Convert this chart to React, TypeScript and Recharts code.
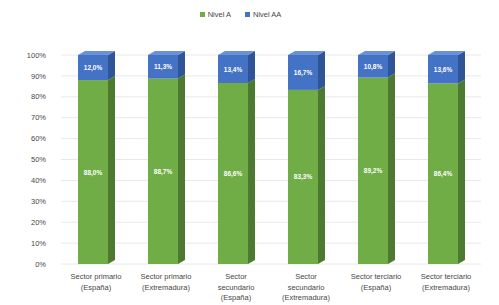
import React from "react";
import {
  Bar,
  BarChart,
  CartesianGrid,
  LabelList,
  Legend,
  XAxis,
  YAxis,
} from "recharts";

const categorias = [
  ["Sector primario", "(España)"],
  ["Sector primario", "(Extremadura)"],
  ["Sector", "secundario", "(España)"],
  ["Sector", "secundario", "(Extremadura)"],
  ["Sector terciario", "(España)"],
  ["Sector terciario", "(Extremadura)"],
];
const nivelA = [88.0, 88.7, 86.6, 83.3, 89.2, 86.4];
const nivelAA = [12.0, 11.3, 13.4, 16.7, 10.8, 13.6];
const yTicks = [0, 10, 20, 30, 40, 50, 60, 70, 80, 90, 100];

const data = categorias.map((c, i) => ({
  cat: String(i),
  a: nivelA[i],
  aa: nivelAA[i],
}));

const COLORS = {
  green: "#70ad47",
  greenSide: "#4d7a30",
  blue: "#4472c4",
  blueSide: "#2f5597",
  blueTop: "#6a90d6",
  text: "#474747",
  grid: "#e8e8e8",
};

// medidas del efecto 3D
const FRONT = 30;
const DEPTH = 7;
const RISE = 4;

function make3D(front: string, side: string, top?: string) {
  return (props: any) => {
    const { x, y, height } = props;
    return (
      <g>
        <rect x={x} y={y} width={FRONT} height={height} fill={front} />
        <polygon
          points={`${x + FRONT},${y} ${x + FRONT + DEPTH},${y - RISE} ${x + FRONT + DEPTH},${y + height - RISE} ${x + FRONT},${y + height}`}
          fill={side}
        />
        {top && (
          <polygon
            points={`${x},${y} ${x + DEPTH},${y - RISE} ${x + FRONT + DEPTH},${y - RISE} ${x + FRONT},${y}`}
            fill={top}
          />
        )}
      </g>
    );
  };
}

const fmt = (v: number) => v.toFixed(1).replace(".", ",") + "%";

const valueLabel = (props: any) => {
  const { x, y, height, value } = props;
  return (
    <text
      x={x + FRONT / 2}
      y={y + height / 2}
      textAnchor="middle"
      dominantBaseline="central"
      fill="#ffffff"
      fontSize={6.5}
      fontWeight="bold"
    >
      {fmt(Number(value))}
    </text>
  );
};

const CatTick = (props: any) => {
  const { x, y, payload } = props;
  const lines = categorias[Number(payload.value)];
  return (
    <text x={x} y={y} textAnchor="middle" fill={COLORS.text} fontSize={7.5}>
      {lines.map((l, i) => (
        <tspan key={i} x={x} dy={i === 0 ? 7 : 10.5}>
          {l}
        </tspan>
      ))}
    </text>
  );
};

const LegendBox = () => (
  <div
    style={{
      display: "flex",
      justifyContent: "center",
      gap: 14,
      fontSize: 7.5,
      color: COLORS.text,
    }}
  >
    {[
      ["Nivel A", COLORS.green],
      ["Nivel AA", COLORS.blue],
    ].map(([n, c]) => (
      <span key={n} style={{ display: "flex", alignItems: "center", gap: 3 }}>
        <span style={{ width: 5, height: 5, background: c, display: "inline-block" }} />
        {n}
      </span>
    ))}
  </div>
);

export default function App() {
  return (
    <div
      style={{
        position: "absolute",
        left: 0,
        top: 0,
        width: 499,
        height: 305,
        background: "#fff",
        fontFamily: "'Liberation Sans', Arial, sans-serif",
      }}
    >
      <BarChart
        width={499}
        height={305}
        data={data}
        margin={{ top: 46, right: 18, left: 0, bottom: 0 }}
        barCategoryGap={0}
      >
        <CartesianGrid vertical={false} stroke={COLORS.grid} />
        <XAxis
          dataKey="cat"
          tick={<CatTick />}
          tickLine={false}
          axisLine={false}
          height={41}
          interval={0}
        />
        <YAxis
          width={61}
          domain={[0, 100]}
          ticks={yTicks}
          tickFormatter={(v: number) => `${v}%`}
          tick={{ fill: COLORS.text, fontSize: 7.5 }}
          tickLine={false}
          axisLine={false}
          tickSize={0}
          tickMargin={15}
          interval={0}
        />
        <Legend
          verticalAlign="top"
          content={<LegendBox />}
          wrapperStyle={{ top: 10 }}
        />
        <Bar
          dataKey="a"
          stackId="s"
          barSize={FRONT + DEPTH}
          isAnimationActive={false}
          shape={make3D(COLORS.green, COLORS.greenSide)}
        >
          <LabelList dataKey="a" content={valueLabel} />
        </Bar>
        <Bar
          dataKey="aa"
          stackId="s"
          barSize={FRONT + DEPTH}
          isAnimationActive={false}
          shape={make3D(COLORS.blue, COLORS.blueSide, COLORS.blueTop)}
        >
          <LabelList dataKey="aa" content={valueLabel} />
        </Bar>
      </BarChart>
    </div>
  );
}
